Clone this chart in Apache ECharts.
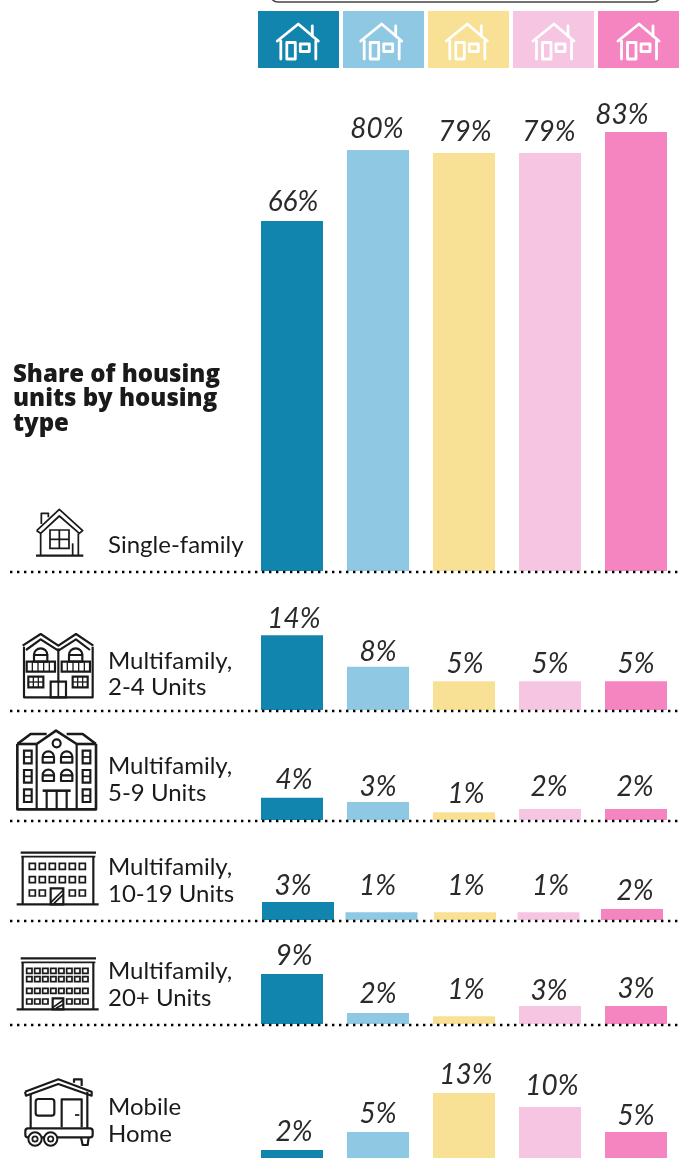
<!DOCTYPE html>
<html>
<head>
<meta charset="utf-8">
<title>Share of housing units by housing type</title>
<style>
  html, body { margin: 0; padding: 0; background: #fff; }
  #chart { width: 682px; height: 1158px; }
</style>
<script src="https://cdn.jsdelivr.net/npm/echarts@6/dist/echarts.min.js"></script>
</head>
<body>
<div id="chart"></div>
<script>
// groups along the x axis (shown only as coloured house swatches in the picture)
const groups = ['A', 'B', 'C', 'D', 'E']
const singleFamily = [66.4, 79.9, 79.3, 79.3, 83.3]
const multi2to4 = [14.2, 8.2, 5.45, 5.45, 5.45]
const multi5to9 = [4.2, 3.4, 1.49, 2.1, 2.1]
const multi10to19 = [3.4, 1.49, 1.49, 1.49, 2.1]
const multi20plus = [9.49, 2.1, 1.49, 3.4, 3.4]
const mobileHome = [1.9, 5.3, 12.7, 10.06, 5.3]

const colors = ['#1185ae', '#8fc8e3', '#f8e094', '#f6c5e2', '#f585c1']
const ink = '#1a1a1a'
const pxPerPct = 5.27
const font = 'Lato'
const iconWeight = 1.3

// row layout, one entry per housing type
const rows = [
  { data: singleFamily, base: 571, max: 90 },
  { data: multi2to4, base: 710, max: 20 },
  { data: multi5to9, base: 820, max: 10 },
  { data: multi10to19, base: 920, max: 10 },
  { data: multi20plus, base: 1024, max: 12 },
  { data: mobileHome, base: 1160, max: 16 }
]
// the labels don't sit exactly on the bars in the original, [dx, dy] per bar
const labelNudge = [
  [[1, 0], [-1, -2], [1, -2], [-1, -2], [-14, 2]],
  [[2, 3], [0, 4], [1, 2], [0, 2], [0, 2]],
  [[2, 1], [0, 4], [2, 1], [-1, -3], [-1, -3]],
  [[-5, 3], [-4, -7], [1, -7], [2, -7], [3, 1]],
  [[2, 1], [0, 0], [2, -7], [-1, 4], [0, 2]],
  [[2, 1], [0, 1], [2, 1], [2, -2], [0, 3]]
]

const grid = []
const xAxis = []
const yAxis = []
const series = []

function addBars(rowIdx, left, width, barWidth, picks) {
  const row = rows[rowIdx]
  const idx = grid.length
  const h = row.max * pxPerPct
  // last row runs past the bottom of the page, so no fitting to the canvas
  grid.push({ left: left, width: width, top: row.base - h, height: h, outerBoundsMode: 'none' })
  xAxis.push({ type: 'category', gridIndex: idx, data: groups, show: false })
  yAxis.push({ type: 'value', gridIndex: idx, min: 0, max: row.max, show: false })
  series.push({
    type: 'bar',
    xAxisIndex: idx,
    yAxisIndex: idx,
    barWidth: barWidth,
    silent: true,
    data: row.data.map((v, i) => {
      if (picks.indexOf(i) < 0) return null
      const nudge = labelNudge[rowIdx][i]
      return {
        value: v,
        itemStyle: { color: colors[i] },
        label: { offset: nudge }
      }
    }),
    label: {
      show: true,
      position: 'top',
      distance: 5,
      fontFamily: font,
      fontStyle: 'italic',
      fontWeight: 400,
      fontSize: 28,
      color: '#2a2a2a',
      formatter: p => Math.round(p.value) + '%'
    }
  })
}

rows.forEach((row, r) => {
  if (r === 3) {
    // 10-19 units row is set tighter and its first two bars are wider
    addBars(r, 256.25, 417.5, 72, [0, 1])
    addBars(r, 256.25, 417.5, 62, [2, 3, 4])
  } else {
    addBars(r, 249, 430, 62, [0, 1, 2, 3, 4])
  }
})

function pl(points, lw) {
  return { type: 'polyline', shape: { points: points }, style: { stroke: ink, fill: null, lineWidth: (lw || 4) * iconWeight, lineJoin: 'round' } }
}
function box(x, y, w, h, lw, r) {
  return { type: 'rect', shape: { x: x, y: y, width: w, height: h, r: r || 0 }, style: { stroke: ink, fill: null, lineWidth: (lw || 4) * iconWeight } }
}
function ring(cx, cy, r, lw) {
  return { type: 'circle', shape: { cx: cx, cy: cy, r: r }, style: { stroke: ink, fill: null, lineWidth: (lw || 4) * iconWeight } }
}
function archWin(cx, base, r, lw) {
  return {
    type: 'group',
    children: [
      { type: 'arc', shape: { cx: cx, cy: base - r, r: r, startAngle: Math.PI, endAngle: 2 * Math.PI }, style: { stroke: ink, fill: null, lineWidth: (lw || 4) * iconWeight } },
      pl([[cx - r, base - r], [cx - r, base], [cx + r, base], [cx + r, base - r], [cx - r, base - r]], lw)
    ]
  }
}
function crop(x, y, children) {
  return { type: 'group', x: x, y: y, scaleX: 1 / 3, scaleY: 1 / 3, children: children }
}

function singleIcon() {
  return crop(0, 500, [
    pl([[110, 92], [178, 28], [248, 92], [238, 100], [178, 48], [122, 100], [110, 92]]),
    pl([[124, 72], [124, 40], [145, 40], [145, 52]]),
    pl([[122, 100], [122, 165]]),
    pl([[235, 100], [235, 165]]),
    pl([[108, 167], [250, 167]], 5),
    box(150, 90, 57, 55),
    pl([[178, 90], [178, 145]]),
    pl([[150, 118], [207, 118]]),
    pl([[218, 130], [218, 165]])
  ])
}
function duplexIcon() {
  const kids = [
    pl([[68, 437], [122, 402], [175, 437], [228, 402], [280, 437]], 5),
    pl([[78, 450], [122, 418], [175, 452], [228, 418], [270, 450]], 5),
    pl([[72, 440], [72, 592], [278, 592], [278, 440]], 5),
    pl([[175, 445], [175, 545]], 5),
    box(152, 545, 46, 47, 5),
    pl([[175, 545], [175, 592]], 4)
  ]
  ;[0, 105].forEach(dx => {
    kids.push(archWin(122 + dx, 485, 20, 5))
    kids.push(box(80 + dx, 485, 85, 30, 5))
    ;[97, 114, 131, 148].forEach(x => kids.push(pl([[x + dx, 485], [x + dx, 515]], 3)))
  })
  ;[85, 218].forEach(x => {
    kids.push(box(x, 530, 45, 32, 5))
    kids.push(pl([[x, 546], [x + 45, 546]], 3))
    kids.push(pl([[x + 15, 530], [x + 15, 562]], 3))
    kids.push(pl([[x + 30, 530], [x + 30, 562]], 3))
  })
  return crop(0, 500, kids)
}
function midriseIcon() {
  const kids = [
    pl([[52, 72], [92, 42], [140, 42]], 6),
    pl([[200, 42], [248, 42], [288, 72]], 6),
    pl([[110, 72], [168, 32], [230, 72]], 6),
    pl([[52, 72], [110, 72]], 6),
    pl([[230, 72], [288, 72]], 6),
    pl([[52, 72], [52, 268], [288, 268], [288, 72]], 6),
    pl([[110, 72], [110, 268]], 5),
    pl([[230, 72], [230, 268]], 5),
    ring(170, 70, 12, 5),
    pl([[128, 212], [212, 212]], 6),
    pl([[140, 212], [140, 268]], 5),
    pl([[170, 212], [170, 268]], 5),
    pl([[200, 212], [200, 268]], 5)
  ]
  ;[92, 150, 208].forEach(y => {
    ;[72, 248].forEach(x => {
      kids.push(box(x, y, 23, 38, 5))
      kids.push(pl([[x, y + 19], [x + 23, y + 19]], 4))
    })
  })
  ;[128, 183].forEach(base => {
    ;[145, 200].forEach(cx => kids.push(archWin(cx, base, 17, 5)))
  })
  return crop(0, 720, kids)
}
function officeIcon(y0, roofY, groundY, winRows, cols, lastLeft, lastRight, winW, winH, winStep, x0, door) {
  const kids = [
    pl([[62, roofY], [288, roofY]], 5),
    pl([[64, roofY + 12], [286, roofY + 12]], 4),
    pl([[68, roofY + 12], [68, groundY]], 5),
    pl([[280, roofY + 12], [280, groundY]], 5),
    pl([[50, groundY], [296, groundY]], 5),
    box(door[0], door[1], door[2], groundY - door[1], 5),
    pl([[door[0], groundY - 5], [door[0] + door[2], door[1] + 5]], 4),
    pl([[door[0] + 10, groundY - 3], [door[0] + door[2], door[1] + 18]], 4)
  ]
  winRows.forEach((y, r) => {
    const xs = []
    if (r === winRows.length - 1) {
      lastLeft.forEach(x => xs.push(x))
      lastRight.forEach(x => xs.push(x))
    } else {
      for (let c = 0; c < cols; c++) xs.push(x0 + c * winStep)
    }
    xs.forEach(x => kids.push(box(x, y, winW, winH, 4)))
  })
  return crop(0, y0, kids)
}
function mobileIcon() {
  return crop(0, 940, [
    pl([[75, 455], [175, 418], [275, 455], [275, 467], [175, 432], [78, 467], [75, 455]], 5),
    pl([[222, 428], [222, 418], [245, 418], [245, 438]], 5),
    pl([[92, 462], [92, 565]], 5),
    pl([[262, 455], [262, 565]], 5),
    box(107, 477, 56, 50, 5, 8),
    pl([[185, 562], [185, 478], [245, 478], [245, 562]], 5),
    pl([[225, 525], [238, 525]], 4),
    box(76, 565, 202, 27, 5, 8),
    { type: 'circle', shape: { cx: 105, cy: 597, r: 20 }, style: { stroke: ink, fill: '#fff', lineWidth: 6 } },
    { type: 'circle', shape: { cx: 152, cy: 597, r: 20 }, style: { stroke: ink, fill: '#fff', lineWidth: 6 } },
    ring(105, 597, 8, 4),
    ring(152, 597, 8, 4),
    pl([[243, 592], [248, 615], [263, 615], [266, 592]], 5)
  ])
}
function swatchHouse(x) {
  // x is the apex of the roof, same outline for all five swatches
  const white = { stroke: '#fff', fill: null, lineWidth: 2.8, lineCap: 'round', lineJoin: 'round' }
  const p = pts => ({ type: 'polyline', shape: { points: pts }, style: white })
  return {
    type: 'group', x: x, y: 24,
    children: [
      p([[-21, 17], [0, 0], [20, 17]]),
      p([[14, 2], [14, 12]]),
      p([[-17.5, 17], [-17.5, 35]]),
      p([[17.5, 17], [17.5, 35]]),
      { type: 'rect', shape: { x: -11.5, y: 18.5, width: 8.5, height: 16.5 }, style: white },
      { type: 'rect', shape: { x: 2, y: 20, width: 9, height: 7.5 }, style: white }
    ]
  }
}

// ---- header ----
const swatchX = [258, 343, 428, 513, 598]
const apexX = [298.3, 381.7, 467.3, 554, 639]
const graphic = [
  { type: 'rect', shape: { x: 270, y: -30, width: 391, height: 32, r: 8 }, style: { stroke: '#444', fill: null, lineWidth: 1.5 } }
]
swatchX.forEach((x, i) => {
  graphic.push({ type: 'rect', shape: { x: x, y: 11, width: 81, height: 57 }, style: { fill: colors[i] } })
  graphic.push(swatchHouse(apexX[i]))
})

// ---- dotted baselines (last row runs off the page) ----
rows.slice(0, 5).forEach(row => {
  graphic.push({
    type: 'line', z: 10,
    shape: { x1: 10, y1: row.base + 1, x2: 682, y2: row.base + 1 },
    style: { stroke: '#000', lineWidth: 2.4, lineDash: [2.4, 4.6] }
  })
})

// ---- left hand text ----
const titleLines = ['Share of housing', 'units by housing', 'type']
const rowText = [
  { lines: ['Single-family'], y: [545] },
  { lines: ['Multifamily,', '2-4 Units'], y: [661, 687] },
  { lines: ['Multifamily,', '5-9 Units'], y: [766, 793] },
  { lines: ['Multifamily,', '10-19 Units'], y: [867, 894] },
  { lines: ['Multifamily,', '20+ Units'], y: [971, 998] },
  { lines: ['Mobile', 'Home'], y: [1107, 1134] }
]
titleLines.forEach((t, i) => {
  graphic.push({
    type: 'text', x: 13, y: 375 + i * 24.5,
    style: { text: t, font: `800 24px "Open Sans"`, fill: ink, textVerticalAlign: 'middle', verticalAlign: 'middle' }
  })
})
rowText.forEach(r => {
  r.lines.forEach((t, i) => {
    graphic.push({
      type: 'text', x: 108, y: r.y[i],
      style: { text: t, font: `400 24px ${font}`, fill: ink, textVerticalAlign: 'middle', verticalAlign: 'middle' }
    })
  })
})

graphic.push(
  singleIcon(),
  duplexIcon(),
  midriseIcon(),
  officeIcon(720, 398, 553, [430, 470, 510], 6, [88, 118], [208, 238], 18, 18, 30, 88, [152, 505, 38]),
  officeIcon(940, 55, 208, [85, 110, 145, 177], 8, [80, 104, 128], [200, 224, 248], 16, 15, 24, 80, [158, 175, 32]),
  mobileIcon()
)

const chart = echarts.init(document.getElementById('chart'))
chart.setOption({
  animation: false,
  backgroundColor: '#fff',
  grid: grid,
  xAxis: xAxis,
  yAxis: yAxis,
  series: series,
  graphic: { elements: graphic }
})
</script>
</body>
</html>
